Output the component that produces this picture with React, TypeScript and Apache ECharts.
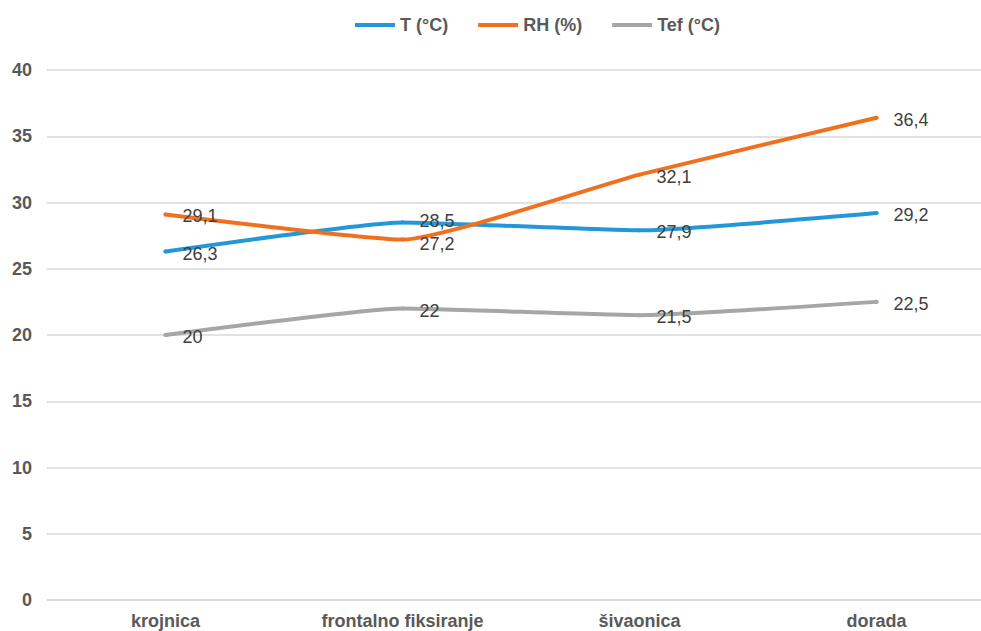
import React, { useEffect, useRef } from "react";
import * as echarts from "echarts";

const categories = ["krojnica", "frontalno fiksiranje", "šivaonica", "dorada"];
const tValues = [26.3, 28.5, 27.9, 29.2];
const rhValues = [29.1, 27.2, 32.1, 36.4];
const tefValues = [20, 22, 21.5, 22.5];
const seriesNames = ["T (°C)", "RH (%)", "Tef (°C)"];
const seriesColors = ["#2398d8", "#f0701e", "#a6a6a6"];

const fmt = (v: number) => String(v).replace(".", ",");

export default function App() {
  const ref = useRef<HTMLDivElement>(null);

  useEffect(() => {
    document.body.style.margin = "0";
    if (!ref.current) return;
    const chart = echarts.init(ref.current, null, { renderer: "svg" });
    const font = "'Liberation Sans', Arial, sans-serif";
    // small vertical nudges keep the two crowded labels at "frontalno fiksiranje" apart
    const nudge: Record<string, number[]> = {
      [seriesNames[0]]: [2, -1, 2, 2],
      [seriesNames[1]]: [2, 4, 2, 2],
      [seriesNames[2]]: [2, 2, 2, 2],
    };
    const mkSeries = (name: string, values: number[], color: string) => ({
      name,
      type: "line",
      data: values.map((v, i) => ({ value: v, label: { offset: [0, nudge[name][i]] } })),
      smooth: 0.15,
      symbol: "circle",
      symbolSize: 4,
      showSymbol: true,
      lineStyle: { width: 4, color, cap: "round" },
      itemStyle: { color, borderWidth: 0 },
      label: {
        show: true,
        position: "right",
        distance: 15,
        formatter: (p: any) => fmt(p.value),
        color: "#404040",
        fontFamily: font,
        fontSize: 18,
      },
    });
    chart.setOption({
      animation: false,
      backgroundColor: "#ffffff",
      textStyle: { fontFamily: font },
      legend: {
        top: 11,
        left: 350,
        itemWidth: 40,
        itemHeight: 4,
        itemGap: 30,
        icon: "rect",
        textStyle: { color: "#595959", fontSize: 18, fontWeight: "bold", fontFamily: font },
        data: seriesNames,
      },
      grid: { left: 47, top: 70, width: 948, height: 530, containLabel: false },
      xAxis: {
        type: "category",
        data: categories,
        boundaryGap: true,
        axisLine: { show: true, lineStyle: { color: "#d9d9d9", width: 1.5 } },
        axisTick: { show: false },
        axisLabel: {
          color: "#595959",
          fontSize: 18,
          fontWeight: "bold",
          fontFamily: font,
          margin: 12,
        },
      },
      yAxis: {
        type: "value",
        min: 0,
        max: 40,
        interval: 5,
        axisLine: { show: false },
        axisTick: { show: false },
        splitLine: { lineStyle: { color: "#d9d9d9", width: 1.5 } },
        axisLabel: {
          color: "#595959",
          fontSize: 18,
          fontWeight: "bold",
          fontFamily: font,
          margin: 15,
        },
      },
      series: [
        mkSeries(seriesNames[0], tValues, seriesColors[0]),
        mkSeries(seriesNames[1], rhValues, seriesColors[1]),
        mkSeries(seriesNames[2], tefValues, seriesColors[2]),
      ],
    });
    return () => chart.dispose();
  }, []);

  return (
    <div style={{ width: 981, height: 631, overflow: "hidden", position: "relative" }}>
      <div ref={ref} style={{ width: 1000, height: 631 }} />
    </div>
  );
}
